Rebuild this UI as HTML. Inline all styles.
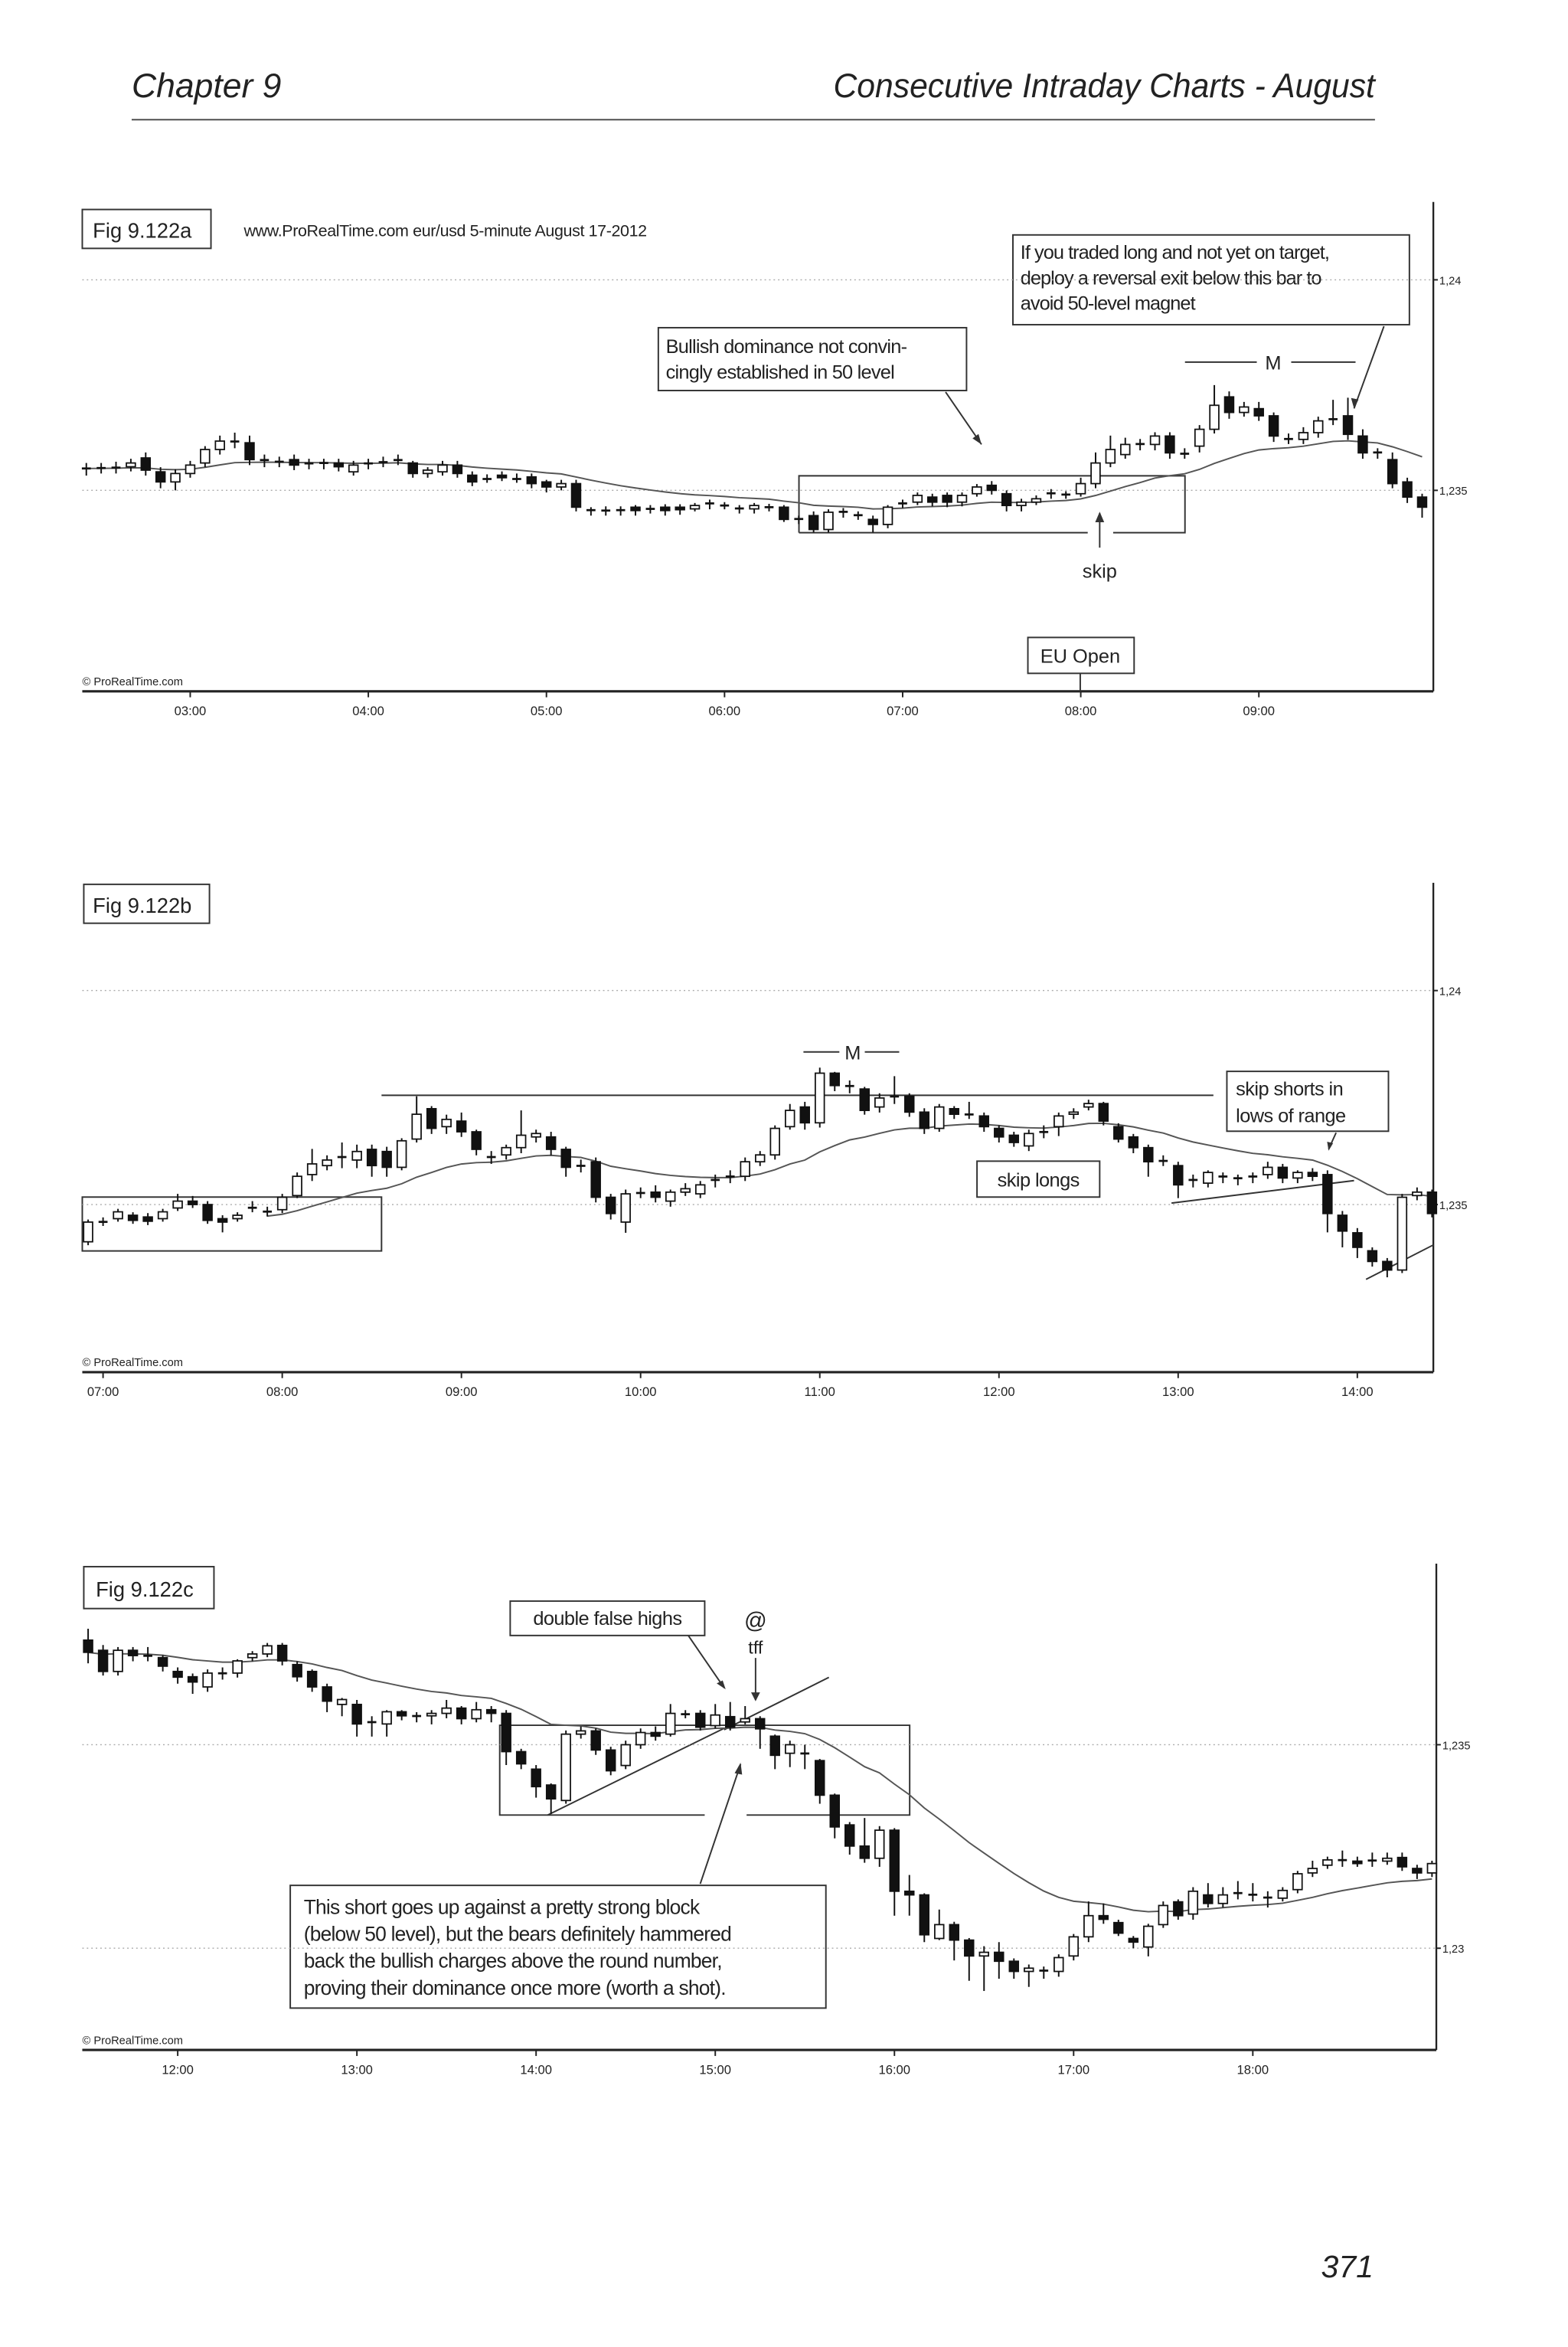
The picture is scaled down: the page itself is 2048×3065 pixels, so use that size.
<!DOCTYPE html>
<html><head><meta charset="utf-8"><style>
html,body{margin:0;padding:0;background:#fff;}
svg{display:block;}
text{font-family:"Liberation Sans",sans-serif;fill:#222;}
</style></head><body>
<svg id="page" xmlns="http://www.w3.org/2000/svg" width="2048" height="3065" viewBox="0 0 1048 1568.5" preserveAspectRatio="none">
<rect width="1048" height="1568.5" fill="#fff"/>
<text x="88" y="65" font-size="23" font-style="italic" fill="#222" textLength="100" lengthAdjust="spacingAndGlyphs">Chapter 9</text>
<text x="557" y="65" font-size="23" font-style="italic" fill="#222" textLength="362" lengthAdjust="spacingAndGlyphs">Consecutive Intraday Charts - August</text>
<line x1="88" y1="80" x2="919" y2="80" stroke="#444" stroke-width="1"/>
<text x="918" y="1522" font-size="21" font-style="italic" text-anchor="end">371</text>

<!-- Chart A static -->
<g id="chartA">
<line x1="958" y1="135" x2="958" y2="462" stroke="#222" stroke-width="1.2"/>
<line x1="55" y1="462" x2="958" y2="462" stroke="#222" stroke-width="1.6"/>
<rect x="55" y="140" width="86" height="26" fill="#fff" stroke="#333"/>
<text x="62" y="159" font-size="14">Fig 9.122a</text>
<text x="163" y="158" font-size="11" letter-spacing="-0.2">www.ProRealTime.com    eur/usd  5-minute  August 17-2012</text>
<rect x="677" y="157" width="265" height="60" fill="#fff" stroke="#333"/>
<text x="682" y="173" font-size="13" letter-spacing="-0.5">If you traded long and not yet on target,</text>
<text x="682" y="190" font-size="13" letter-spacing="-0.5">deploy a reversal exit below this bar to</text>
<text x="682" y="207" font-size="13" letter-spacing="-0.5">avoid 50-level magnet</text>
<line x1="925" y1="218" x2="905" y2="273" stroke="#333"/>
<path d="M905 273 l-2 -7 l5 1 z" fill="#333"/>
<rect x="440" y="219" width="206" height="42" fill="#fff" stroke="#333"/>
<text x="445" y="236" font-size="13" letter-spacing="-0.4">Bullish dominance not convin-</text>
<text x="445" y="253" font-size="13" letter-spacing="-0.4">cingly established in 50 level</text>
<line x1="632" y1="262" x2="656" y2="297" stroke="#333"/>
<path d="M656 297 l-6 -4 l4 -3 z" fill="#333"/>
<line x1="792" y1="242" x2="840" y2="242" stroke="#333"/>
<line x1="863" y1="242" x2="906" y2="242" stroke="#333"/>
<text x="851" y="247" font-size="13" text-anchor="middle">M</text>
<path d="M534 356 L534 318 L792 318 L792 356 L744 356 M727 356 L534 356" fill="none" stroke="#333"/>
<line x1="735" y1="366" x2="735" y2="343" stroke="#333"/>
<path d="M735 342 l-3 7 l6 0 z" fill="#333"/>
<text x="735" y="386" font-size="13" text-anchor="middle">skip</text>
<rect x="687" y="426" width="71" height="24" fill="#fff" stroke="#333"/>
<text x="722" y="443" font-size="13" text-anchor="middle">EU Open</text>
<line x1="722" y1="450" x2="722" y2="462" stroke="#333"/>
<text x="55" y="458" font-size="7.5">© ProRealTime.com</text>
</g>

<!-- Chart B static -->
<g id="chartB">
<line x1="958" y1="590" x2="958" y2="917" stroke="#222" stroke-width="1.2"/>
<line x1="55" y1="917" x2="958" y2="917" stroke="#222" stroke-width="1.6"/>
<rect x="56" y="591" width="84" height="26" fill="#fff" stroke="#333"/>
<text x="62" y="610" font-size="14">Fig 9.122b</text>
<line x1="255" y1="732" x2="811" y2="732" stroke="#333"/>
<rect x="55" y="800" width="200" height="36" fill="none" stroke="#333"/>
<line x1="537" y1="703" x2="561" y2="703" stroke="#333"/>
<line x1="578" y1="703" x2="601" y2="703" stroke="#333"/>
<text x="570" y="708" font-size="13" text-anchor="middle">M</text>
<rect x="820" y="716" width="108" height="40" fill="#fff" stroke="#333"/>
<text x="826" y="732" font-size="13" letter-spacing="-0.3">skip shorts in</text>
<text x="826" y="750" font-size="13" letter-spacing="-0.3">lows of range</text>
<line x1="893" y1="757" x2="888" y2="768" stroke="#333"/>
<path d="M888 769 l-1 -6 l4 1 z" fill="#333"/>
<rect x="653" y="776" width="82" height="24" fill="#fff" stroke="#333"/>
<text x="694" y="793" font-size="13" text-anchor="middle" letter-spacing="-0.3">skip longs</text>
<line x1="783" y1="804" x2="905" y2="789" stroke="#333"/>
<line x1="913" y1="855" x2="958" y2="832" stroke="#333"/>
<text x="55" y="913" font-size="7.5">© ProRealTime.com</text>
</g>

<!-- Chart C static -->
<g id="chartC">
<line x1="960" y1="1045" x2="960" y2="1370" stroke="#222" stroke-width="1.2"/>
<line x1="55" y1="1370" x2="960" y2="1370" stroke="#222" stroke-width="1.6"/>
<rect x="56" y="1047" width="87" height="28" fill="#fff" stroke="#333"/>
<text x="64" y="1067" font-size="14">Fig 9.122c</text>
<rect x="341" y="1070" width="130" height="23" fill="#fff" stroke="#333"/>
<text x="406" y="1086" font-size="13" text-anchor="middle" letter-spacing="-0.3">double false highs</text>
<line x1="460" y1="1093" x2="484" y2="1128" stroke="#333"/>
<path d="M485 1129 l-6 -4 l4 -2 z" fill="#333"/>
<text x="505" y="1088" font-size="15" text-anchor="middle">@</text>
<text x="505" y="1105" font-size="12" text-anchor="middle">tff</text>
<line x1="505" y1="1108" x2="505" y2="1136" stroke="#333"/>
<path d="M505 1137 l-3 -6 l6 0 z" fill="#333"/>
<line x1="484" y1="1156" x2="554" y2="1121" stroke="#333"/>
<line x1="366" y1="1213" x2="484" y2="1155" stroke="#333"/>
<path d="M471 1213 L334 1213 L334 1153 L608 1153 L608 1213 L499 1213" fill="none" stroke="#333"/>
<line x1="468" y1="1259" x2="495" y2="1179" stroke="#333"/>
<path d="M495 1178 l-4 7 l5 1 z" fill="#333"/>
<rect x="194" y="1260" width="358" height="82" fill="#fff" stroke="#333"/>
<text x="203" y="1279" font-size="13.5" letter-spacing="-0.4">This short goes up against a pretty strong block</text>
<text x="203" y="1297" font-size="13.5" letter-spacing="-0.4">(below 50 level), but the bears definitely hammered</text>
<text x="203" y="1315" font-size="13.5" letter-spacing="-0.4">back the bullish charges above the round number,</text>
<text x="203" y="1333" font-size="13.5" letter-spacing="-0.4">proving their dominance once more (worth a shot).</text>
<text x="55" y="1366" font-size="7.5">© ProRealTime.com</text>
</g>
<g id="dyn"></g>
</svg>
<script>
// ---------- Chart A data (pips relative to 1.2350) ----------
const aOpens=[5.2,5.2,5.2,5.6,7.7,4.4,2.0,4.0,6.5,9.7,11.7,11.3,7.3,6.9,7.3,6.5,6.5,6.5,4.4,6.5,6.5,7.3,6.5,4.0,4.4,6.0,3.6,2.8,3.6,2.8,3.2,2.0,0.8,1.6,-4.8,-4.8,-4.6,-4.0,-4.4,-4.0,-4.0,-4.4,-3.2,-3.6,-4.4,-4.4,-4.0,-4.0,-6.9,-6.0,-9.3,-5.2,-6.0,-6.9,-8.1,-3.2,-2.8,-1.6,-1.2,-2.8,-0.8,1.2,-0.8,-3.6,-2.8,-0.8,-1.2,-0.8,1.6,6.5,8.5,10.9,10.9,12.9,8.9,10.5,14.5,22.2,18.5,19.4,17.7,12.1,12.1,13.7,16.8,17.7,12.9,8.9,7.3,2.0,-1.6];
const aCloses=[5.2,5.4,5.6,6.5,4.8,2.0,4.0,6.0,9.7,11.7,11.5,7.3,7.1,6.7,6.0,6.3,6.5,5.6,6.0,6.3,6.9,7.1,4.0,4.8,6.0,4.0,2.0,2.6,3.0,2.6,1.6,0.8,1.6,-4.0,-4.6,-4.8,-4.8,-4.8,-4.4,-4.8,-4.6,-3.6,-3.0,-3.6,-4.2,-3.6,-4.0,-6.9,-6.7,-9.3,-5.2,-5.0,-5.8,-8.1,-4.0,-3.0,-1.2,-2.8,-2.8,-1.2,0.8,0.0,-3.6,-2.8,-2.0,-0.6,-0.8,1.6,6.5,9.7,10.9,11.1,12.9,8.9,8.5,14.5,20.2,18.5,19.8,17.7,12.9,12.3,13.7,16.5,17.0,13.3,8.9,9.1,1.6,-1.6,-4.0];
const aHighs=[6.5,6.5,6.8,7.5,9.0,5.5,5.0,7.0,10.5,13.0,13.7,13.0,8.5,8.0,8.5,7.5,7.5,7.5,7.0,7.5,8.0,8.5,7.0,5.5,7.0,7.0,4.5,3.8,4.5,4.0,4.0,2.5,2.5,2.5,-4.0,-3.8,-3.8,-3.5,-3.5,-3.3,-3.3,-3.0,-2.2,-2.8,-3.5,-3.0,-3.2,-3.5,-6.0,-5.0,-4.5,-4.2,-5.0,-6.0,-3.5,-2.2,-0.5,-0.8,-0.5,-0.5,1.5,2.2,0.0,-2.0,-1.2,0.3,-0.2,3.0,9.0,13.0,12.5,12.2,13.8,13.8,10.0,15.5,25.0,23.5,21.0,21.0,18.5,13.5,15.0,17.5,21.5,22.0,14.5,10.0,9.0,3.0,-0.8];
const aLows=[3.5,4.0,4.0,4.5,3.5,0.5,0.0,3.0,5.5,8.5,10.0,6.0,5.5,5.5,4.8,5.0,5.0,4.5,3.5,5.0,5.5,6.0,3.0,3.0,3.5,3.0,1.0,1.8,2.2,1.8,0.5,-0.5,0.0,-5.0,-6.0,-6.0,-6.0,-6.0,-5.5,-6.0,-5.8,-5.0,-4.5,-4.5,-5.5,-5.5,-5.0,-7.5,-8.0,-10.0,-10.0,-6.5,-7.0,-10.0,-9.0,-4.2,-3.5,-3.8,-4.0,-3.8,-1.5,-1.0,-5.0,-5.0,-3.5,-2.0,-2.0,-1.5,0.5,5.5,7.5,9.5,9.5,7.5,7.5,9.0,13.5,17.0,17.5,16.5,11.5,11.0,11.0,12.5,15.5,12.0,7.5,7.5,0.5,-3.0,-6.5];
const aTimeLabels=["03:00","04:00","05:00","06:00","07:00","08:00","09:00"];
const aTimeBars=[7,19,31,43,55,67,79];
const aPriceTicks=[1.24,1.235];
const aPriceLabels=["1,24","1,235"];

// ---------- Chart B data (pips relative to 1.2350) ----------
const bOpens=[-8.7,-4.1,-3.3,-2.5,-2.9,-3.3,-0.8,0.8,0.0,-3.3,-3.3,-0.8,-1.7,-1.2,2.1,7.0,9.1,11.0,10.4,12.9,12.4,8.7,15.3,22.4,18.2,19.5,17.0,11.2,11.6,13.3,15.8,15.8,12.9,9.1,10.0,1.7,-4.1,2.5,2.9,0.8,2.9,2.5,5.8,6.6,6.6,10.0,11.6,18.2,22.8,19.1,30.7,27.8,27.0,22.8,25.3,25.3,21.6,17.8,22.4,21.1,20.7,17.8,16.2,13.7,17.0,18.2,21.1,22.8,23.6,18.2,15.8,13.3,10.0,9.1,5.8,5.0,6.6,6.2,6.6,7.0,8.7,6.2,7.5,7.0,-2.5,-6.6,-10.8,-13.3,-15.3,2.1,2.9];
const bCloses=[-4.1,-4.0,-1.7,-3.7,-3.9,-1.7,0.8,0.0,-3.7,-4.1,-2.5,-0.7,-1.6,1.7,6.6,9.5,10.4,11.2,12.4,9.1,8.7,14.9,21.1,17.8,19.9,17.0,12.9,11.0,13.3,16.2,16.6,12.9,8.7,9.0,1.7,-2.1,2.5,2.9,1.7,2.9,3.7,4.6,5.7,6.5,10.0,11.6,17.8,22.0,19.1,30.7,27.8,27.6,22.0,24.9,25.2,21.6,17.8,22.8,21.1,21.0,18.2,15.8,14.5,16.6,16.9,20.7,21.6,23.6,19.5,15.3,13.3,10.0,10.4,4.6,5.7,7.5,6.5,6.1,6.5,8.7,6.2,7.5,6.6,-2.1,-6.2,-10.0,-13.3,-15.3,1.7,2.9,-2.1];
const bHighs=[-3.5,-3.0,-1.0,-1.8,-2.0,-1.0,2.5,2.0,0.8,-2.5,-1.8,0.8,-0.5,2.5,7.5,13.0,11.5,14.5,14.0,14.0,13.5,15.5,25.3,23.0,21.0,21.5,17.5,12.5,14.0,22.0,17.5,17.0,13.5,10.5,11.0,2.5,3.5,4.0,4.5,3.5,5.0,5.5,7.0,8.0,11.0,12.5,18.5,23.5,24.0,32.0,31.0,29.0,27.5,26.0,30.0,26.0,22.5,23.5,23.0,24.0,21.5,18.5,17.0,17.5,18.5,21.5,22.5,24.5,24.0,19.0,16.5,14.0,11.5,10.0,7.0,8.0,7.5,7.0,7.5,10.0,9.5,8.0,8.5,8.0,-1.5,-5.5,-10.0,-12.5,2.5,4.0,3.5];
const bLows=[-9.5,-5.0,-4.0,-4.5,-4.8,-4.0,-1.5,-0.8,-4.5,-6.5,-4.0,-1.8,-2.8,-2.0,1.5,5.5,8.0,8.5,8.5,6.5,6.5,8.0,14.5,16.5,16.5,15.8,11.5,9.5,10.5,12.0,14.5,11.5,6.5,7.5,0.5,-3.5,-6.6,1.5,0.5,-0.5,2.0,1.5,4.0,5.0,5.5,9.0,10.5,17.5,17.5,18.0,26.5,26.0,21.0,21.5,23.5,20.5,16.5,17.0,20.0,20.0,17.0,14.5,13.5,12.5,15.5,16.0,20.0,22.0,18.5,14.5,12.0,6.5,9.0,1.5,4.0,4.0,5.0,4.5,5.0,6.0,5.0,5.0,5.5,-6.5,-10.0,-12.5,-14.5,-17.0,-16.0,1.0,-3.0];
const bTimeLabels=["07:00","08:00","09:00","10:00","11:00","12:00","13:00","14:00"];
const bTimeBars=[1,13,25,37,49,61,73,85];
const bPriceTicks=[1.24,1.235];
const bPriceLabels=["1,24","1,235"];

// ---------- Chart C data (pips relative to 1.2300) ----------
const cOpens=[75.7,73.2,68.0,73.2,71.9,71.4,68.0,66.7,64.2,67.6,67.6,71.4,72.3,74.4,69.7,68.0,64.2,59.9,59.9,55.6,55.1,58.1,57.1,57.1,57.7,59.0,56.4,58.6,57.7,48.3,44.0,40.1,36.3,52.6,53.4,48.7,44.9,50.0,53.0,52.6,57.3,57.7,54.7,56.9,55.6,56.4,52.1,47.9,47.9,46.1,37.6,30.3,25.1,22.1,29.0,14.0,13.1,2.4,5.8,2.0,-1.9,-1.0,-3.2,-5.7,-5.3,-5.7,-1.9,2.8,8.0,6.3,2.4,0.3,5.8,11.4,8.4,13.1,11.0,13.6,13.2,12.5,12.3,14.4,18.5,20.4,21.7,21.4,21.6,21.4,22.3,19.6,18.5];
const cCloses=[72.7,68.0,73.2,71.9,71.8,69.3,66.6,65.4,67.6,67.5,70.6,72.3,74.3,70.6,66.7,64.2,60.7,61.1,55.1,55.5,58.1,57.1,57.0,57.7,59.0,56.4,58.6,57.7,48.3,45.3,39.7,36.7,52.6,53.4,48.7,43.6,50.0,53.0,52.1,57.7,57.7,54.3,57.3,54.3,56.4,53.9,47.4,50.0,47.8,37.6,29.8,25.1,22.1,29.0,14.0,13.1,3.3,5.8,2.0,-1.9,-1.0,-3.2,-5.7,-4.9,-5.7,-2.3,2.8,8.0,7.1,3.7,1.5,5.4,10.5,8.0,14.0,11.0,13.1,13.5,13.1,12.4,14.2,18.3,19.6,21.7,21.6,20.8,21.5,22.1,20.0,18.5,20.8];
const cHighs=[78.5,74.5,74.0,74.0,74.0,72.0,69.0,67.5,68.5,69.0,71.0,73.0,75.0,75.0,70.5,68.5,65.0,61.5,61.0,57.0,58.5,58.5,58.0,58.5,61.0,59.5,60.5,59.5,58.5,49.0,45.0,40.5,53.5,54.5,54.0,49.5,51.0,54.0,54.5,60.0,58.5,58.5,60.0,60.5,59.5,57.0,52.5,51.0,50.0,46.5,38.0,31.0,32.0,30.0,29.5,18.0,13.5,9.5,6.5,2.5,0.5,1.5,-2.5,-4.0,-4.5,-1.5,3.5,11.5,11.0,7.0,3.0,6.0,11.5,12.0,15.0,16.0,15.0,16.5,16.0,14.0,15.0,19.0,21.5,22.5,24.0,22.5,23.5,23.5,23.5,20.5,21.5];
const cLows=[70.0,67.0,67.0,70.5,70.5,68.0,65.0,62.5,63.0,66.0,66.5,70.5,71.5,69.5,65.5,63.0,58.0,57.0,52.0,52.0,52.0,56.0,55.5,55.0,56.5,55.0,55.5,55.5,45.0,44.0,37.0,33.0,35.5,51.5,47.5,42.5,44.0,49.0,51.0,52.0,56.5,53.5,54.0,53.5,55.0,49.0,44.0,44.5,44.0,35.5,27.0,23.0,21.0,20.0,8.0,8.0,1.5,2.0,-3.0,-8.0,-10.5,-7.5,-7.5,-9.5,-7.5,-7.0,-3.0,1.5,6.0,3.0,0.0,-2.0,5.0,7.0,7.0,10.0,10.0,12.0,11.5,10.0,11.5,13.5,17.5,19.5,20.0,20.0,20.0,20.5,19.0,17.0,17.5];
const cTimeLabels=["12:00","13:00","14:00","15:00","16:00","17:00","18:00"];
const cTimeBars=[6,18,30,42,54,66,78];
const cPriceTicks=[1.235,1.23];
const cPriceLabels=["1,235","1,23"];

const NS="http://www.w3.org/2000/svg";
const dyn=document.getElementById('dyn');
function mk(tag,attrs,parent){const e=document.createElementNS(NS,tag);for(const k in attrs)e.setAttribute(k,attrs[k]);(parent||dyn).appendChild(e);return e;}

function drawChart(cfg){
  const g=mk('g',{});
  
  
  const xOf=i=>cfg.x0+cfg.dx*i;
  const yOfPip=p=>cfg.yRef-p*cfg.pipPx;
  const yOfPrice=v=>cfg.yRef-(v-cfg.ref)*10000*cfg.pipPx;
  cfg.priceTicks.forEach((v,k)=>{
    const y=yOfPrice(v);
    const gl=mk('line',{x1:55,y1:y,x2:cfg.axisX,y2:y,stroke:'#aaa','stroke-width':0.7,'stroke-dasharray':'1 2'},g);
    
    
    mk('line',{x1:cfg.axisX,y1:y,x2:cfg.axisX+3,y2:y,stroke:'#222'},g);
    const t=mk('text',{x:cfg.axisX+4,y:y+3,'font-size':7.5},g);
    t.textContent=cfg.priceLabels[k];
    
    
  });
  cfg.timeBars.forEach((b,k)=>{
    const x=xOf(b);
    mk('line',{x1:x,y1:cfg.axisY,x2:x,y2:cfg.axisY+4,stroke:'#222'},g);
    const t=mk('text',{x:x,y:cfg.axisY+16,'font-size':8.5,'text-anchor':'middle'},g);
    t.textContent=cfg.timeLabels[k];
    
    
  });
  const o=cfg.opens,c=cfg.closes,h=cfg.highs,l=cfg.lows;
  const n=Math.min(o.length,c.length);
  // exponential moving average (20)
  let pts=[];let ema=c[0];const a=2/21;
  for(let i=0;i<n;i++){
    ema=i===0?c[0]:ema+a*(c[i]-ema);
    if(i>=cfg.maStart)pts.push(xOf(i).toFixed(1)+','+yOfPip(ema).toFixed(1));
  }
  const ma=mk('polyline',{points:pts.join(' '),fill:'none',stroke:'#555','stroke-width':1},g);
  
  
  for(let i=0;i<n;i++){
    const x=xOf(i);
    const hi=(h[i]!==undefined)?h[i]:Math.max(o[i],c[i]);
    const lo=(l[i]!==undefined)?l[i]:Math.min(o[i],c[i]);
    const w=mk('line',{x1:x,y1:yOfPip(hi),x2:x,y2:yOfPip(lo),stroke:'#111','stroke-width':1},g);
    
    
    const top=yOfPip(Math.max(o[i],c[i])),bot=yOfPip(Math.min(o[i],c[i]));
    let b;
    if(bot-top<1.2){
      b=mk('line',{x1:x-3,y1:(top+bot)/2,x2:x+3,y2:(top+bot)/2,stroke:'#111','stroke-width':1.4},g);
    }else{
      b=mk('rect',{x:x-3,y:top,width:6,height:bot-top,fill:c[i]>=o[i]?'#fff':'#111',stroke:'#111','stroke-width':0.9},g);
    }
    
    
  }
}
drawChart({name:'chart-a',x0:57.7,dx:9.92,yRef:327.7,pipPx:2.814,ref:1.235,axisX:958,axisY:462,
  opens:aOpens,closes:aCloses,highs:aHighs,lows:aLows,timeBars:aTimeBars,timeLabels:aTimeLabels,
  priceTicks:aPriceTicks,priceLabels:aPriceLabels,maStart:0});
drawChart({name:'chart-b',x0:58.9,dx:9.98,yRef:805,pipPx:2.86,ref:1.235,axisX:958,axisY:917,
  opens:bOpens,closes:bCloses,highs:bHighs,lows:bLows,timeBars:bTimeBars,timeLabels:bTimeLabels,
  priceTicks:bPriceTicks,priceLabels:bPriceLabels,maStart:12});
drawChart({name:'chart-c',x0:58.9,dx:9.98,yRef:1302,pipPx:2.72,ref:1.23,axisX:960,axisY:1370,
  opens:cOpens,closes:cCloses,highs:cHighs,lows:cLows,timeBars:cTimeBars,timeLabels:cTimeLabels,
  priceTicks:cPriceTicks,priceLabels:cPriceLabels,maStart:0});
</script>
</body></html>
